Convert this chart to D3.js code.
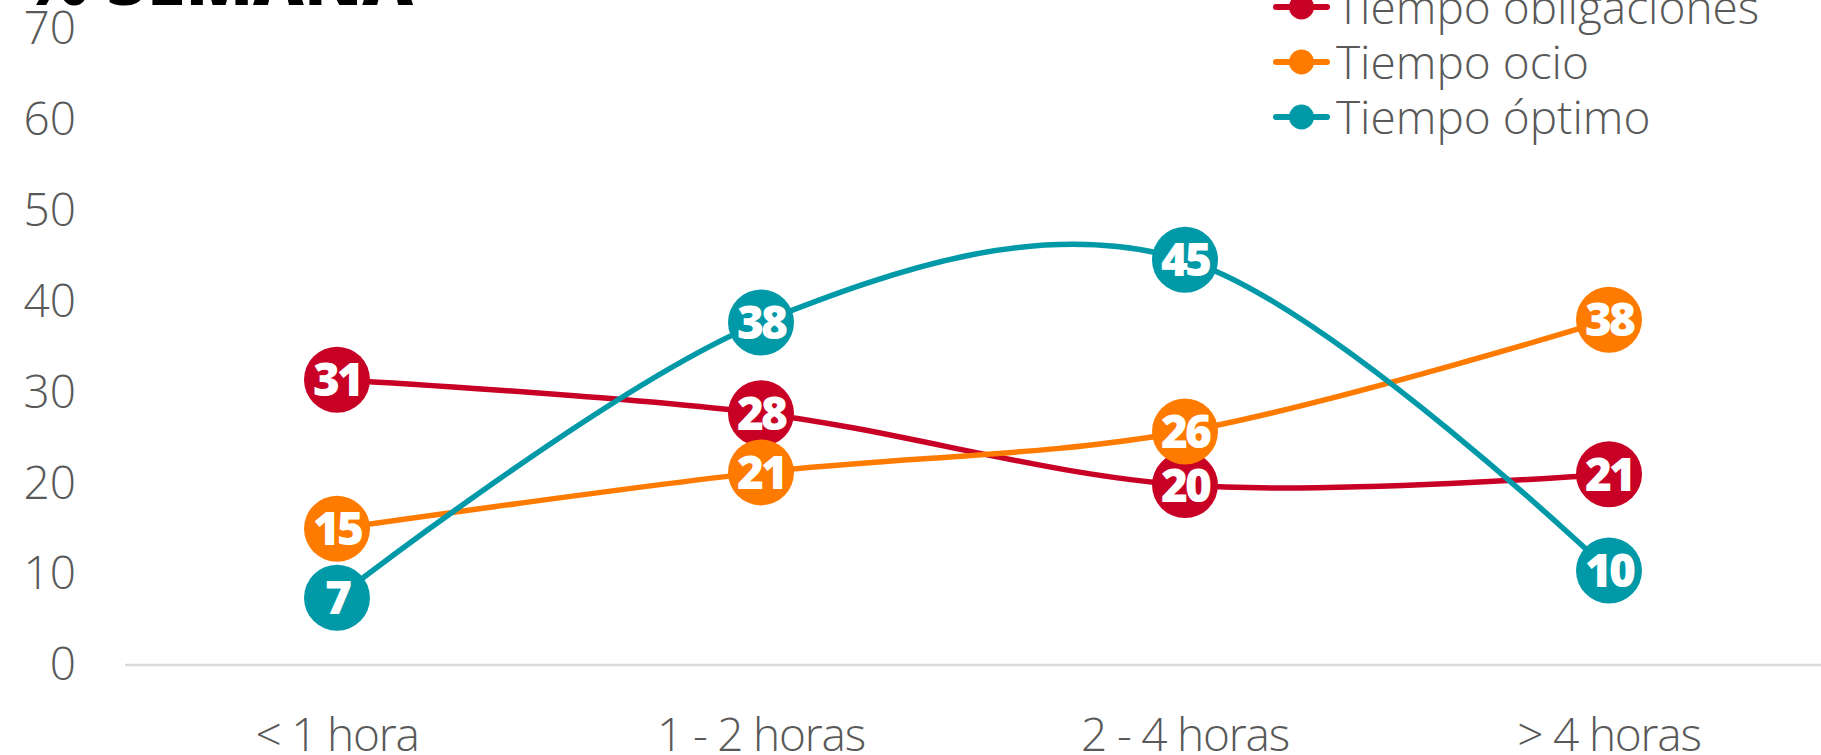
<!DOCTYPE html>
<html>
<head>
<meta charset="utf-8">
<script src="https://cdn.jsdelivr.net/npm/d3@7"></script>
<style>
  html, body { margin: 0; padding: 0; background: #fff; }
  svg { display: block; }
</style>
</head>
<body>
<svg id="chart" width="1821" height="755"></svg>
<script>
var categories = ['< 1 hora', '1 - 2 horas', '2 - 4 horas', '> 4 horas'];
var seriesNames = ['Tiempo obligaciones', 'Tiempo ocio', 'Tiempo óptimo'];
var obligaciones = [31.4, 27.7, 19.8, 21.0];
var ocio = [15.0, 21.2, 25.7, 38.0];
var optimo = [7.4, 37.7, 44.6, 10.4];
var yTicks = [0, 10, 20, 30, 40, 50, 60, 70];
var title = '% SEMANA';

var colors = ['#c80025', '#ff7b00', '#0099a8'];
var series = [obligaciones, ocio, optimo];

var svg = d3.select('#chart');

var x = d3.scaleBand().domain(categories).range([125, 1821]);
var y = d3.scaleLinear().domain([0, 70]).range([665, 29]);

// title, cut off by the top edge
svg.append('text')
    .attr('x', 22)
    .attr('y', 5)
    .attr('font-family', 'Open Sans')
    .attr('font-weight', 800)
    .attr('font-size', 70)
    .attr('fill', '#000')
    .text(title);

// y axis labels
var yAxis = d3.axisLeft(y).tickValues(yTicks).tickSize(0).tickPadding(0);
var gy = svg.append('g').attr('transform', 'translate(76,0)').call(yAxis);
gy.select('.domain').remove();
gy.selectAll('text')
    .attr('font-family', 'Open Sans')
    .attr('font-weight', 300)
    .attr('font-size', 46)
    .attr('fill', '#595959');

// baseline
svg.append('line')
    .attr('x1', 125).attr('x2', 1821)
    .attr('y1', y(0)).attr('y2', y(0))
    .attr('stroke', '#d9d9d9')
    .attr('stroke-width', 2.5);

// x axis labels
var xAxis = d3.axisBottom(x).tickSize(0).tickPadding(0);
var gx = svg.append('g').attr('transform', 'translate(0,716)').call(xAxis);
gx.select('.domain').remove();
gx.selectAll('text')
    .attr('dy', '0.75em')
    .attr('font-family', 'Open Sans')
    .attr('font-weight', 300)
    .attr('font-size', 46)
    .attr('letter-spacing', -1.2)
    .attr('fill', '#595959');

var line = d3.line()
    .x(function (d, i) { return x(categories[i]) + x.bandwidth() / 2; })
    .y(function (d) { return y(d); })
    .curve(d3.curveCatmullRom.alpha(0));

series.forEach(function (s, k) {
    svg.append('path')
        .datum(s)
        .attr('d', line)
        .attr('fill', 'none')
        .attr('stroke', colors[k])
        .attr('stroke-width', 5.5)
        .attr('stroke-linecap', 'round');
});

series.forEach(function (s, k) {
    var pts = svg.append('g').selectAll('g.pt').data(s).enter().append('g')
        .attr('class', 'pt')
        .attr('transform', function (d, i) {
            return 'translate(' + [x(categories[i]) + x.bandwidth() / 2, y(d)] + ')';
        });
    pts.append('circle')
        .attr('r', 33)
        .attr('fill', colors[k]);
    pts.append('text')
        .attr('text-anchor', 'middle')
        .attr('dy', '0.36em')
        .attr('font-family', 'Open Sans')
        .attr('font-weight', 800)
        .attr('font-size', 46)
        .attr('letter-spacing', -3)
        .attr('fill', '#fff')
        .text(function (d) { return Math.round(d); });
});

// legend
var legend = svg.append('g').attr('transform', 'translate(1276,7)');
var items = legend.selectAll('g').data(seriesNames).enter().append('g')
    .attr('transform', function (d, i) { return 'translate(0,' + i * 55 + ')'; });
items.append('line')
    .attr('x1', 0).attr('x2', 51)
    .attr('stroke', function (d, i) { return colors[i]; })
    .attr('stroke-width', 6)
    .attr('stroke-linecap', 'round');
items.append('circle')
    .attr('cx', 25.5)
    .attr('r', 12.5)
    .attr('fill', function (d, i) { return colors[i]; });
items.append('text')
    .attr('x', 60)
    .attr('dy', '0.36em')
    .attr('font-family', 'Open Sans')
    .attr('font-weight', 300)
    .attr('font-size', 46)
    .attr('fill', '#595959')
    .text(function (d) { return d; });
</script>
</body>
</html>
